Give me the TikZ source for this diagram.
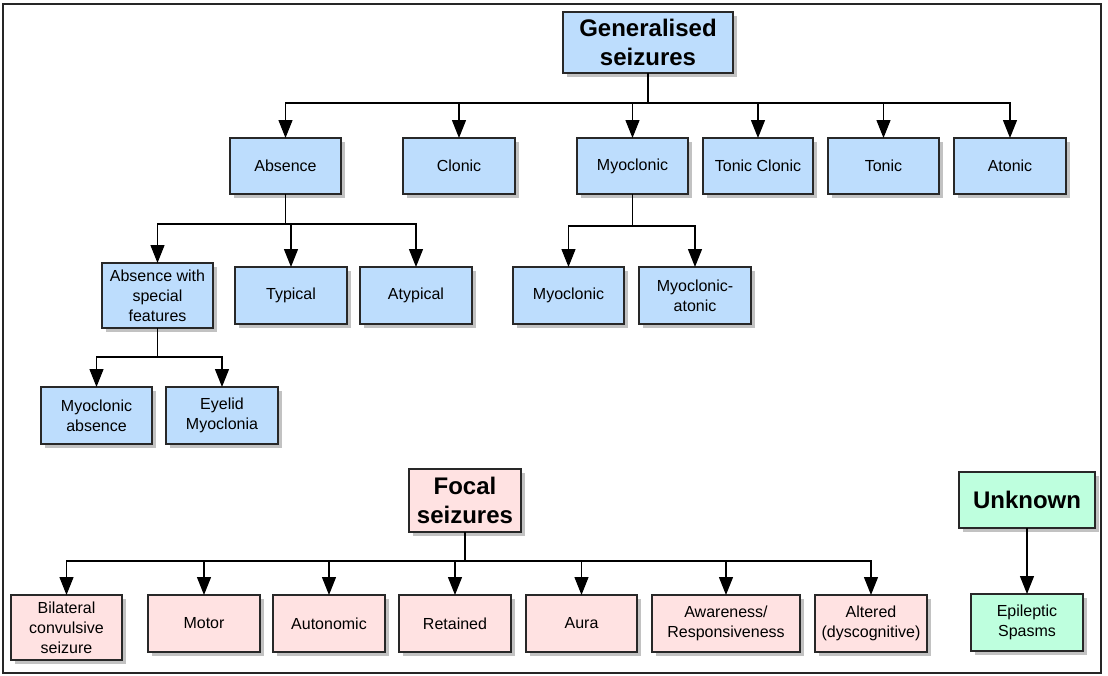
\documentclass[tikz,border=0pt]{standalone}
\usepackage{fontspec}
\setmainfont{Liberation Sans}
\usetikzlibrary{arrows.meta,shadows}
\definecolor{bluef}{RGB}{189,221,253}
\definecolor{pinkf}{RGB}{255,226,226}
\definecolor{greenf}{RGB}{190,255,222}
\definecolor{edge}{RGB}{40,40,40}
\tikzset{
  box/.style={draw=edge, line width=1.1pt, inner sep=0pt, outer sep=0pt, align=center,
    font=\fontsize{16}{20}\selectfont, minimum height=57pt, minimum width=112pt,
    drop shadow={shadow xshift=3.5pt, shadow yshift=-3.5pt, fill=black!40, opacity=0.6}},
  head/.style={box, font=\fontsize{24}{29}\selectfont\bfseries},
  gbox/.style={box, fill=bluef},
  pbox/.style={box, fill=pinkf},
  tbox/.style={box, fill=greenf},
  arr/.style={draw=black, line width=1.2pt, -{Triangle[length=18pt,width=14pt]}},
  ln/.style={draw=black, line width=1.2pt}
}
\begin{document}
\begin{tikzpicture}[x=1pt,y=-1pt]
\useasboundingbox (0,0) rectangle (1108,675);
\draw[line width=1.5pt, draw=black!85] (3,4) rectangle (1101,673);

% Generalised
\node[head, fill=bluef, minimum width=170pt, minimum height=61pt] (gen) at (648,42.5) {Generalised\\seizures};
\node[gbox, minimum height=56pt, minimum width=111pt] (absence) at (285.5,166) {Absence};
\node[gbox, minimum height=56pt] (clonic) at (459,166) {Clonic};
\node[gbox, minimum height=56pt, minimum width=111pt] (myoc) at (632.5,166) {Myoclonic};
\node[gbox, minimum height=56pt, minimum width=110pt] (tonclon) at (758,166) {Tonic Clonic};
\node[gbox, minimum height=56pt, minimum width=111pt] (tonic) at (883.5,166) {Tonic};
\node[gbox, minimum height=56pt] (atonic) at (1010,166) {Atonic};

\node[gbox, minimum height=65pt, minimum width=111pt] (aws) at (157.5,295.5) {Absence with\\special\\features};
\node[gbox] (typical) at (291,295.5) {Typical};
\node[gbox] (atypical) at (416,295.5) {Atypical};
\node[gbox, minimum width=111pt] (myoc2) at (568.5,295.5) {Myoclonic};
\node[gbox] (myat) at (695,295.5) {Myoclonic-\\atonic};

\node[gbox, minimum width=111pt] (myabs) at (96.5,415.5) {Myoclonic\\absence};
\node[gbox] (eyelid) at (222,415.5) {Eyelid\\Myoclonia};

% Focal
\node[head, fill=pinkf, minimum width=112pt, minimum height=63pt] (focal) at (465,500.5) {Focal\\seizures};
\node[pbox, minimum height=65pt, minimum width=111pt] (bilat) at (66.5,627.5) {Bilateral\\convulsive\\seizure};
\node[pbox] (motor) at (204,623.5) {Motor};
\node[pbox] (auton) at (329,623.5) {Autonomic};
\node[pbox] (retained) at (455,623.5) {Retained};
\node[pbox, minimum width=111pt] (aura) at (581.5,623.5) {Aura};
\node[pbox, minimum width=148pt] (aware) at (726,623.5) {Awareness/\\Responsiveness};
\node[pbox] (altered) at (871,623.5) {Altered\\(dyscognitive)};

% Unknown
\node[head, fill=greenf, minimum width=136pt, minimum height=56pt] (unknown) at (1027,500) {Unknown};
\node[tbox] (spasms) at (1027,622.5) {Epileptic\\Spasms};

% connectors
\foreach \c in {absence,clonic,myoc,tonclon,tonic,atonic}
  \draw[arr] (gen.south) -- ++(0,30) -| (\c.north);
\foreach \c in {aws,typical,atypical}
  \draw[arr] (absence.south) -- ++(0,30) -| (\c.north);
\foreach \c in {myoc2,myat}
  \draw[arr] (myoc.south) -- ++(0,32) -| (\c.north);
\foreach \c in {myabs,eyelid}
  \draw[arr] (aws.south) -- ++(0,29) -| (\c.north);
\foreach \c in {bilat,motor,auton,retained,aura,aware,altered}
  \draw[arr] (focal.south) -- ++(0,29) -| (\c.north);
\draw[arr] (unknown.south) -- (spasms.north);
\end{tikzpicture}
\end{document}
